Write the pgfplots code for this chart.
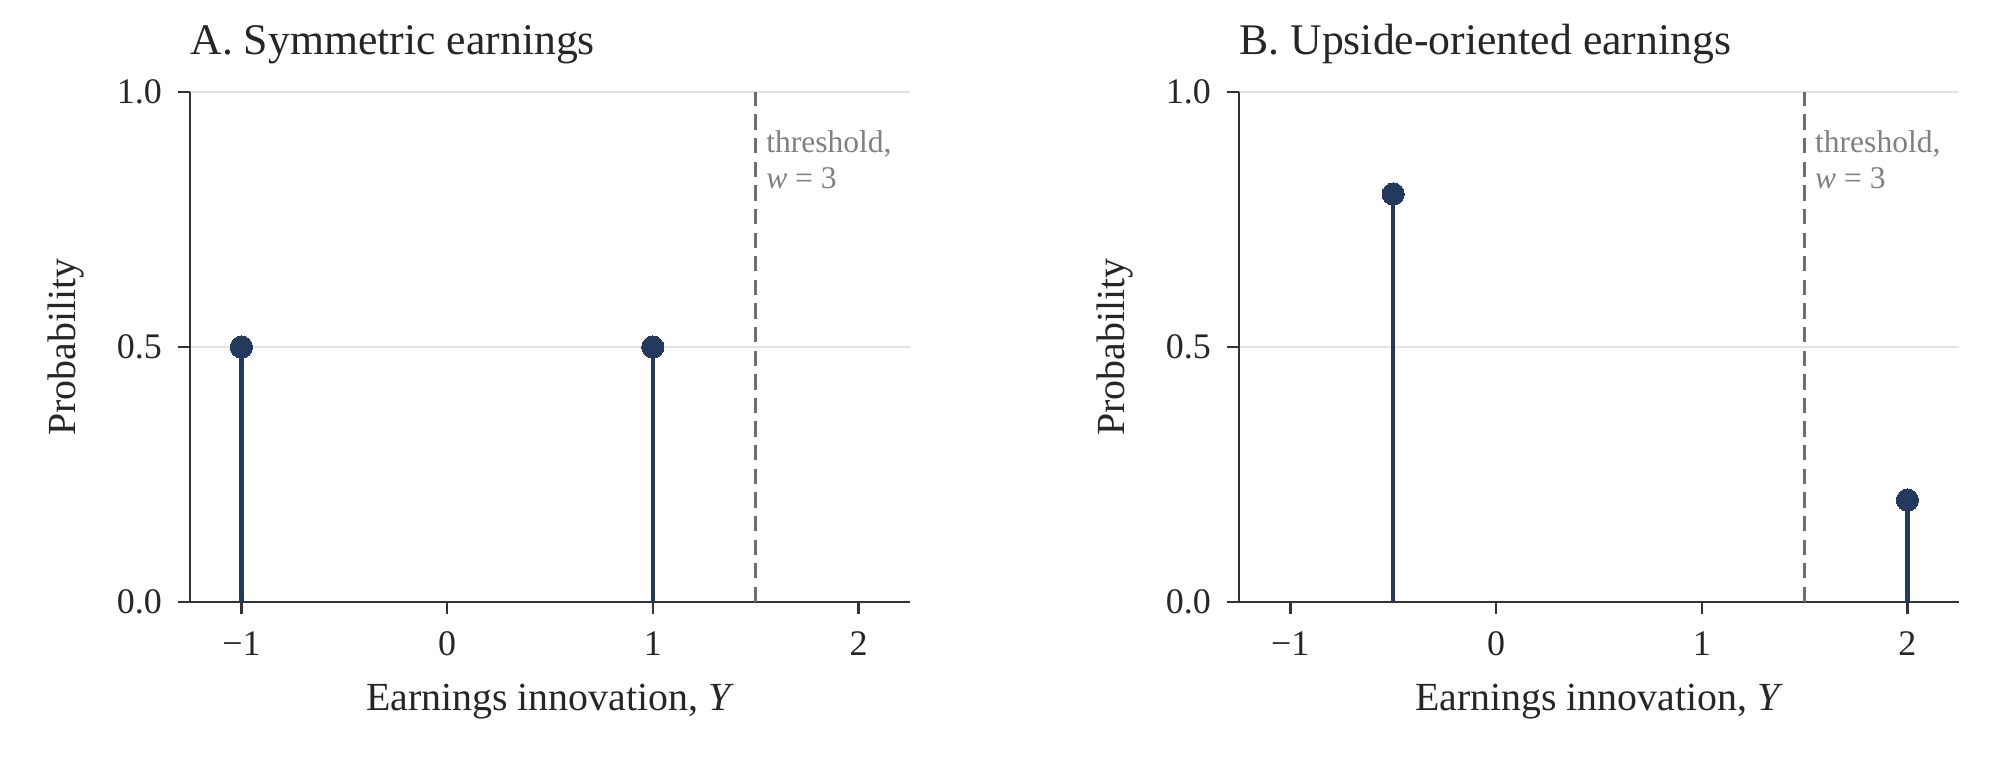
\documentclass[border=0pt]{standalone}
\usepackage{fontspec}
\setmainfont{Liberation Serif}
\usepackage{pgfplots}
\pgfplotsset{compat=1.18}

\definecolor{stemc}{HTML}{233A5E}
\definecolor{spine}{HTML}{333333}
\definecolor{gridc}{HTML}{E3E3E3}
\definecolor{thr}{HTML}{6E6E6E}
\definecolor{thrtxt}{HTML}{808080}
\definecolor{txt}{HTML}{262626}

\pgfplotsset{
  panel/.style={
    scale only axis, width=259.2bp, height=183.6bp,
    xmin=-1.25, xmax=2.25, ymin=0, ymax=1,
    axis lines*=left,
    axis line style={spine, line width=0.9bp},
    xtick={-1,0,1,2}, xticklabels={−1,0,1,2},
    ytick={0,0.5,1}, yticklabels={0.0,0.5,1.0},
    tick style={spine, line width=0.9bp},
    tick align=outside, major tick length=4.2bp,
    ymajorgrids, grid style={gridc, line width=0.5bp},
    tick label style={font=\fontsize{13}{15}\selectfont, text=txt},
    yticklabel style={xshift=-2.4bp},
    xticklabel style={yshift=-3bp},
    label style={font=\fontsize{14.4}{17}\selectfont, text=txt},
    xlabel={Earnings innovation, \textit{Y}},
    ylabel={Probability},
    xlabel style={at={(axis description cs:0.5,-0.195)}, anchor=center},
    ylabel style={at={(axis description cs:-0.172,0.5)}, anchor=center},
    title style={at={(axis description cs:0,1)}, anchor=base west,
      yshift=7.5bp, inner sep=0pt, font=\fontsize{15.8}{18}\selectfont, text=txt},
    clip=false,
  },
  stem/.style={ycomb, stemc, line width=1.6bp, mark=*,
    mark options={fill=stemc, draw=stemc, line width=0pt}, mark size=4bp},
  thresh/.style={thr, line width=1bp, dash pattern=on 5.5bp off 3bp},
}
\tikzset{thrlabel/.style={anchor=north west, inner sep=0pt, xshift=3.6bp, align=left,
    text=thrtxt, font=\fontsize{11.4}{13}\selectfont}}

\begin{document}
\begin{tikzpicture}
\useasboundingbox (-68.4bp,-61.56bp) rectangle (651.6bp,216.72bp);

\begin{axis}[panel, title={A. Symmetric earnings}]
  \addplot[thresh] coordinates {(1.5,0) (1.5,1)};
  \addplot[stem] coordinates {(-1,0.5) (1,0.5)};
  \node[thrlabel] at (axis cs:1.5,0.925)
    {threshold,\\\textit{w}\kern0.25em=\kern0.25em3};
\end{axis}

\begin{axis}[panel, xshift=377.6bp, title={B. Upside-oriented earnings}]
  \addplot[thresh] coordinates {(1.5,0) (1.5,1)};
  \addplot[stem] coordinates {(-0.5,0.8) (2,0.2)};
  \node[thrlabel] at (axis cs:1.5,0.925)
    {threshold,\\\textit{w}\kern0.25em=\kern0.25em3};
\end{axis}
\end{tikzpicture}
\end{document}
